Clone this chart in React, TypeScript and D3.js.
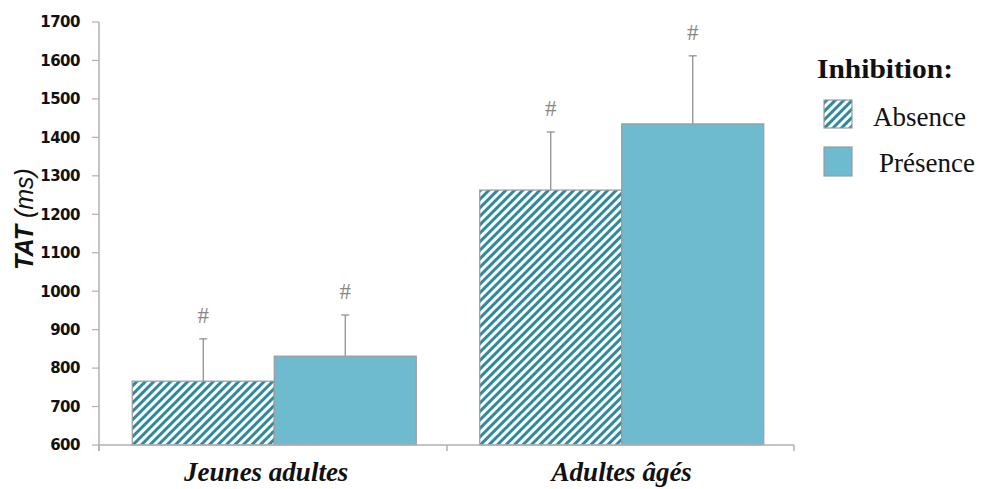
import React from "react";
import * as d3 from "d3";

const categories = ["Jeunes adultes", "Adultes âgés"];
const series = ["Absence", "Présence"];
const absenceValues = [766, 1263];
const presenceValues = [831, 1435];
const absenceErrors = [110, 151];
const presenceErrors = [107, 177];
const yTicks = [600, 700, 800, 900, 1000, 1100, 1200, 1300, 1400, 1500, 1600, 1700];
const significance = ["#", "#"];

const W = 985;
const H = 489;
const axisX0 = 99;
const axisX1 = 794;
const plotTop = 22;
const plotBottom = 445;

const solid = "#6EBBD0";
const stripe = "#2F8A9D";
const outline = "#9a9a9a";
const axisColor = "#b0b0b0";
const errColor = "#888888";

export default function App() {
  const y = d3.scaleLinear().domain([600, 1700]).range([plotBottom, plotTop]);
  const x0 = d3.scaleBand<string>().domain(categories).range([axisX0 + 1.5, axisX1 + 1.5]).paddingInner(0).paddingOuter(0);
  const x1 = d3.scaleBand<string>().domain(series).range([0, x0.bandwidth()]).paddingInner(0).paddingOuter(0.2236);

  const data = categories.map((c, i) => ({
    cat: c,
    bars: [
      { s: series[0], v: absenceValues[i], e: absenceErrors[i] },
      { s: series[1], v: presenceValues[i], e: presenceErrors[i] },
    ],
  }));

  const serif = "'Liberation Serif', 'Times New Roman', serif";
  const sans = "'Liberation Sans', Arial, sans-serif";

  return (
    <svg width={W} height={H} style={{ position: "absolute", left: 0, top: 0, background: "#fff" }}>
      <defs>
        <pattern id="hatch" patternUnits="userSpaceOnUse" width={6} height={6} patternTransform="rotate(45)">
          <rect x={0} y={0} width={6} height={6} fill="#fff" />
          <rect x={0} y={0} width={3} height={6} fill={stripe} />
        </pattern>
      </defs>

      {/* y axis */}
      <line x1={axisX0} x2={axisX0} y1={plotTop} y2={plotBottom + 6} stroke={axisColor} strokeWidth={1.5} />
      {yTicks.map((t) => (
        <g key={t}>
          <line x1={axisX0 - 7} x2={axisX0} y1={y(t)} y2={y(t)} stroke={axisColor} strokeWidth={1.2} />
          <text
            x={80}
            y={y(t)}
            dy="0.36em"
            textAnchor="end"
            fontFamily="'DejaVu Sans', Verdana, sans-serif"
            fontWeight="bold"
            fontSize={15}
            letterSpacing={-0.5}
            fill="#111"
          >
            {t}
          </text>
        </g>
      ))}

      {/* bars */}
      {data.map((d, ci) => (
        <g key={d.cat} transform={`translate(${x0(d.cat)},0)`}>
          {d.bars.map((b, bi) => {
            const bx = x1(b.s)!;
            const bw = x1.bandwidth();
            const cx = bx + bw / 2;
            return (
              <g key={b.s}>
                <line x1={cx} x2={cx} y1={y(b.v)} y2={y(b.v + b.e)} stroke={errColor} strokeWidth={1.2} />
                <line x1={cx - 4} x2={cx + 4} y1={y(b.v + b.e)} y2={y(b.v + b.e)} stroke={errColor} strokeWidth={1.2} />
                <rect
                  x={bx}
                  y={y(b.v)}
                  width={bw}
                  height={y(600) - y(b.v)}
                  fill={bi === 0 ? "url(#hatch)" : solid}
                  stroke={outline}
                  strokeWidth={1.2}
                />
                <text
                  x={cx}
                  y={y(b.v + b.e) - 16}
                  textAnchor="middle"
                  fontFamily={serif}
                  fontSize={23}
                  fill="#888"
                >
                  {significance[ci]}
                </text>
              </g>
            );
          })}
        </g>
      ))}

      {/* x axis */}
      <line x1={axisX0} x2={axisX1} y1={plotBottom} y2={plotBottom} stroke={axisColor} strokeWidth={1.5} />
      {[axisX0, 447, axisX1].map((tx, i) => (
        <line key={i} x1={tx} x2={tx} y1={plotBottom} y2={plotBottom + 6} stroke={axisColor} strokeWidth={1.5} />
      ))}
      {categories.map((c, i) => (
        <text
          key={c}
          x={x0(c)! + x0.bandwidth() / 2 + (i === 0 ? -8 : 0)}
          y={481}
          textAnchor="middle"
          fontFamily={serif}
          fontWeight="bold"
          fontStyle="italic"
          fontSize={27}
          fill="#111"
        >
          {c}
        </text>
      ))}

      {/* y title */}
      <text
        transform={`translate(33,219) rotate(-90)`}
        textAnchor="middle"
        fontFamily={sans}
        fontSize={25}
        fill="#111"
      >
        <tspan fontWeight="bold" fontStyle="italic">TAT</tspan>
        <tspan fontStyle="italic"> (ms)</tspan>
      </text>

      {/* legend */}
      <text x={817} y={78} fontFamily={serif} fontWeight="bold" fontSize={27} textLength={136} lengthAdjust="spacingAndGlyphs" fill="#111">
        Inhibition:
      </text>
      <rect x={824} y={100} width={28} height={28} fill="url(#hatch)" stroke={outline} strokeWidth={1.2} />
      <text x={873} y={126} fontFamily={serif} fontSize={27} fill="#111">
        {series[0]}
      </text>
      <rect x={824} y={147} width={28} height={29} fill={solid} stroke={outline} strokeWidth={1.2} />
      <text x={879} y={172} fontFamily={serif} fontSize={27} fill="#111">
        {series[1]}
      </text>
    </svg>
  );
}
